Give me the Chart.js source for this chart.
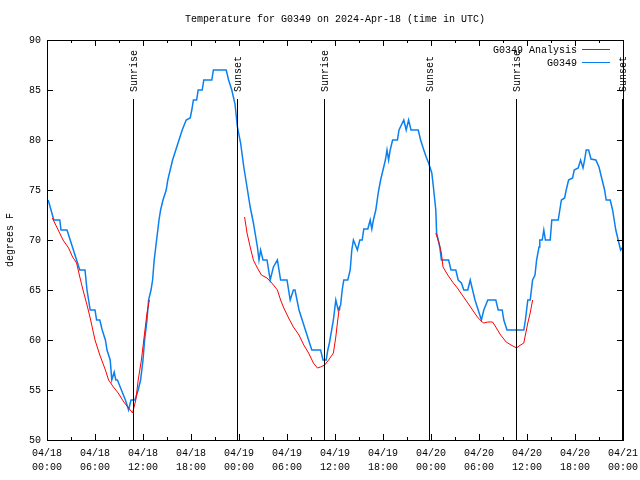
<!DOCTYPE html>
<html>
<head>
<meta charset="utf-8">
<script src="https://cdn.jsdelivr.net/npm/chart.js@4.4.1/dist/chart.umd.min.js"></script>
<style>
  body { margin: 0; background: #fff; }
  canvas { display: block; }
</style>
</head>
<body>
<canvas id="grafico" width="640" height="480"></canvas>
<script>
// hours since 04/18 00:00 UTC
const obsHours = [0.15, 0.5, 0.85, 1.6, 1.75, 2.5, 2.9, 3.3, 3.7, 4.1, 4.75, 5.0, 5.2, 5.4, 6.0, 6.2, 6.6, 6.9, 7.3, 7.5, 7.9, 8.1, 8.4, 8.6, 8.8, 9.3, 9.8, 10.2, 10.5, 11.0, 11.4, 11.7, 12.0, 12.2, 12.5, 12.7, 13.0, 13.2, 13.4, 13.7, 14.0, 14.2, 14.5, 14.9, 15.1, 15.4, 15.7, 16.1, 16.5, 16.9, 17.4, 17.9, 18.1, 18.3, 18.7, 18.9, 19.4, 19.6, 20.6, 20.8, 22.4, 22.7, 23.1, 23.5, 23.8, 24.2, 24.6, 25.0, 25.4, 25.8, 26.3, 26.5, 26.7, 27.0, 27.5, 27.9, 28.3, 28.8, 29.2, 30.0, 30.4, 30.8, 31.0, 31.5, 31.9, 32.3, 32.7, 33.1, 34.2, 34.5, 34.9, 35.1, 35.3, 35.8, 36.1, 36.4, 36.7, 36.9, 37.1, 37.6, 37.9, 38.1, 38.3, 38.8, 39.1, 39.4, 39.6, 40.1, 40.4, 40.6, 40.8, 41.1, 41.4, 41.7, 42.0, 42.3, 42.5, 42.7, 42.9, 43.2, 43.8, 44.0, 44.6, 44.9, 45.2, 45.5, 46.4, 46.7, 47.1, 47.4, 47.7, 48.1, 48.3, 48.6, 48.7, 49.1, 49.3, 50.2, 50.5, 51.1, 51.4, 51.8, 52.1, 52.6, 52.9, 53.2, 53.5, 53.9, 54.3, 54.6, 55.1, 56.1, 56.4, 56.9, 57.1, 57.5, 59.6, 59.8, 60.1, 60.4, 60.7, 61.0, 61.2, 61.5, 61.6, 61.9, 62.1, 62.3, 62.9, 63.1, 63.9, 64.1, 64.3, 64.7, 64.9, 65.2, 65.7, 65.9, 66.4, 66.7, 67.0, 67.2, 67.4, 67.7, 68.0, 68.6, 69.0, 69.3, 69.7, 69.9, 70.4, 70.7, 70.9, 71.1, 71.4, 71.7, 72.0]
const obsTemps = [74.0, 73.0, 72.0, 72.0, 71.0, 71.0, 70.0, 69.0, 68.0, 67.0, 67.0, 65.0, 64.0, 63.0, 63.0, 62.0, 62.0, 61.0, 60.0, 59.0, 58.0, 56.0, 56.8, 56.0, 56.0, 55.0, 54.0, 53.0, 54.0, 54.0, 55.0, 56.0, 58.0, 60.0, 62.0, 64.0, 65.0, 66.0, 68.0, 70.0, 72.0, 73.0, 74.0, 75.0, 76.0, 77.0, 78.0, 79.0, 80.0, 81.0, 82.0, 82.2, 83.0, 84.0, 84.0, 85.0, 85.0, 86.0, 86.0, 87.0, 87.0, 86.0, 85.0, 83.6, 81.3, 79.7, 77.3, 75.3, 73.3, 71.7, 69.3, 68.0, 69.0, 68.0, 68.0, 66.0, 67.3, 68.0, 66.0, 66.0, 64.0, 65.0, 65.0, 63.0, 62.0, 61.0, 60.0, 59.0, 59.0, 58.0, 58.0, 59.0, 59.7, 62.0, 64.0, 63.0, 63.5, 65.0, 66.0, 66.0, 67.0, 69.0, 70.0, 69.0, 70.0, 70.0, 71.1, 71.1, 72.0, 71.1, 72.0, 73.0, 74.7, 76.0, 77.0, 78.0, 79.0, 78.0, 79.0, 80.0, 80.0, 81.0, 82.0, 81.0, 82.0, 81.0, 81.0, 80.0, 79.0, 78.3, 77.7, 76.7, 75.3, 73.0, 70.7, 69.3, 68.0, 68.0, 67.0, 67.0, 66.0, 65.7, 65.0, 65.0, 66.0, 65.0, 64.0, 63.0, 62.0, 63.0, 64.0, 64.0, 63.0, 63.0, 62.0, 61.0, 61.0, 62.0, 64.0, 64.0, 66.0, 66.5, 68.0, 69.3, 70.0, 70.0, 71.0, 70.0, 70.0, 72.0, 72.0, 73.0, 74.0, 74.2, 75.0, 76.0, 76.2, 77.0, 77.2, 78.0, 77.2, 78.0, 79.0, 79.0, 78.1, 78.0, 77.3, 76.3, 75.0, 74.0, 74.0, 73.0, 72.0, 71.0, 70.0, 69.0, 69.3]

// analysis, null = gap between runs
const anaHours = [0.67, 1.4, 2.0, 2.7, 3.2, 3.7, 4.1, 4.5, 5.0, 5.4, 6.0, 6.6, 7.3, 7.7, 8.3, 8.9, 9.6, 10.2, 10.7, 11.1, 11.4, 11.8, 12.2, 12.5, 12.8, 18,
  24.7, 25.0, 25.4, 25.8, 26.3, 26.8, 27.5, 28.1, 28.8, 29.2, 29.6, 30.2, 30.8, 31.5, 32.1, 32.7, 33.3, 33.8, 34.2, 34.7, 35.2, 35.8, 36.1, 36.3, 36.5, 36.6, 42,
  48.6, 49.0, 49.3, 49.5, 50.1, 50.7, 51.3, 51.9, 52.6, 53.2, 53.8, 54.4, 54.6, 55.1, 55.7, 56.1, 56.7, 57.4, 58.0, 58.7, 59.0, 59.6, 59.8, 60.1, 60.4, 60.7]
const anaTemps = [72.2, 71.0, 70.0, 69.2, 68.3, 67.7, 66.3, 65.0, 63.5, 62.2, 60.0, 58.5, 57.0, 56.0, 55.3, 54.7, 53.8, 53.2, 52.7, 54.0, 56.0, 58.0, 60.7, 62.7, 64.0, null,
  72.3, 70.7, 69.3, 68.0, 67.2, 66.5, 66.2, 65.7, 65.0, 64.0, 63.2, 62.2, 61.3, 60.5, 59.5, 58.7, 57.7, 57.2, 57.3, 57.5, 58.0, 58.7, 60.3, 61.7, 63.0, 63.3, null,
  70.7, 69.7, 68.7, 67.3, 66.5, 65.8, 65.2, 64.5, 63.7, 63.0, 62.3, 61.8, 61.7, 61.8, 61.8, 61.3, 60.5, 59.8, 59.5, 59.2, 59.4, 59.7, 60.5, 61.7, 62.7, 64.0]

const sunriseHours = [10.8, 34.65, 58.6]
const sunsetHours = [23.75, 47.8, 71.85]

const dayLabels = ['04/18', '04/19', '04/20', '04/21']
const timeLabels = ['00:00', '06:00', '12:00', '18:00']

const FONT = 'Liberation Mono'
const tickFont = { family: FONT, size: 10, lineHeight: 1.4 }

// frame, inward tics, sun lines, legend, title (gnuplot look)
const gnuplotBits = {
  id: 'gnuplotBits',
  afterDatasetsDraw(chart) {
    const ctx = chart.ctx
    const a = chart.chartArea
    const xs = chart.scales.x
    const ys = chart.scales.y
    ctx.save()
    ctx.strokeStyle = '#000'
    ctx.lineWidth = 1

    ctx.beginPath()
    for (let v = 0; v <= 72; v += 3) {
      const px = Math.round(xs.getPixelForValue(v)) + 0.5
      const len = v % 6 === 0 ? 6 : 3
      ctx.moveTo(px, a.bottom); ctx.lineTo(px, a.bottom - len)
      ctx.moveTo(px, a.top); ctx.lineTo(px, a.top + len)
    }
    for (let v = 50; v <= 90; v += 5) {
      const py = Math.round(ys.getPixelForValue(v)) + 0.5
      ctx.moveTo(a.left, py); ctx.lineTo(a.left + 6, py)
      ctx.moveTo(a.right, py); ctx.lineTo(a.right - 6, py)
    }
    ctx.stroke()

    // sunrise / sunset
    ctx.font = '10px ' + FONT
    ctx.fillStyle = '#000'
    const events = sunriseHours.map(h => [h, 'Sunrise']).concat(sunsetHours.map(h => [h, 'Sunset']))
    events.forEach(e => {
      const px = Math.round(xs.getPixelForValue(e[0])) + 0.5
      ctx.beginPath()
      ctx.moveTo(px, 99); ctx.lineTo(px, a.bottom)
      ctx.stroke()
      ctx.save()
      ctx.translate(px + 1, 92)
      ctx.rotate(-Math.PI / 2)
      ctx.textAlign = 'left'
      ctx.textBaseline = 'middle'
      ctx.fillText(e[1], 0, 0)
      ctx.restore()
    })

    ctx.strokeRect(a.left + 0.5, a.top + 0.5, a.right - a.left, a.bottom - a.top)

    // legend
    ctx.textAlign = 'right'
    ctx.textBaseline = 'middle'
    chart.data.datasets.forEach((ds, i) => {
      const y = 50 + i * 13
      ctx.fillStyle = '#000'
      ctx.fillText(ds.label, 577, y)
      ctx.strokeStyle = ds.borderColor
      ctx.lineWidth = 1
      ctx.beginPath()
      ctx.moveTo(582, y - 0.5); ctx.lineTo(610, y - 0.5)
      ctx.stroke()
    })

    // title
    ctx.fillStyle = '#000'
    ctx.textAlign = 'center'
    ctx.fillText('Temperature for G0349 on 2024-Apr-18 (time in UTC)', (a.left + a.right) / 2, 19)
    ctx.restore()
  }
}

new Chart(document.getElementById('grafico'), {
  type: 'line',
  data: {
    datasets: [{
      label: 'G0349 Analysis',
      data: anaHours.map((h, i) => ({ x: h, y: anaTemps[i] })),
      borderColor: '#ff0000',
      borderWidth: 1,
      pointRadius: 0,
      spanGaps: false
    }, {
      label: 'G0349',
      data: obsHours.map((h, i) => ({ x: h, y: obsTemps[i] })),
      borderColor: '#0a80f0',
      borderWidth: 1.5,
      pointRadius: 0
    }]
  },
  options: {
    responsive: false,
    animation: false,
    devicePixelRatio: 1,
    layout: { padding: { top: 40, right: 17, left: 0, bottom: 0 } },
    plugins: { legend: { display: false }, tooltip: { enabled: false } },
    scales: {
      x: {
        type: 'linear',
        min: 0,
        max: 72,
        afterFit(s) { s.height = 40; s.paddingLeft = 0; s.paddingRight = 0 },
        grid: { display: false, drawTicks: false },
        border: { display: false },
        ticks: {
          stepSize: 6,
          autoSkip: false,
          maxRotation: 0,
          padding: 6,
          color: '#000',
          font: tickFont,
          callback: v => [dayLabels[Math.floor(v / 24)], timeLabels[(v % 24) / 6]]
        }
      },
      y: {
        min: 50,
        max: 90,
        afterFit(s) { s.width = 47 },
        grid: { display: false, drawTicks: false },
        border: { display: false },
        ticks: { stepSize: 5, padding: 6, color: '#000', font: { family: FONT, size: 10 } },
        title: { display: true, text: 'degrees F', color: '#000', font: { family: FONT, size: 10 }, padding: { top: 4, bottom: 0 } }
      }
    }
  },
  plugins: [gnuplotBits]
})
</script>
</body>
</html>
